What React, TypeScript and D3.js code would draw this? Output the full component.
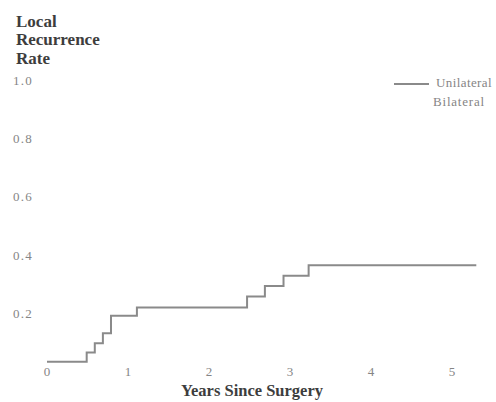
import React from "react";
import * as d3 from "d3";

const years = [0, 0.49, 0.59, 0.69, 0.79, 1.11, 2.47, 2.69, 2.92, 3.23, 5.3];
const rates = [0.04, 0.071, 0.103, 0.137, 0.197, 0.226, 0.263, 0.299, 0.334, 0.37, 0.37];
const yTicks = [1.0, 0.8, 0.6, 0.4, 0.2];
const yTickLabels = ["1.0", "0.8", "0.6", "0.4", "0.2"];
const xTicks = [0, 1, 2, 3, 4, 5];
const legendLabels = ["Unilateral", "Bilateral"];
const yTitleLines = ["Local", "Recurrence", "Rate"];
const xTitle = "Years Since Surgery";

const W = 496;
const H = 402;

export default function App() {
  const x = d3.scaleLinear().domain([0, 5]).range([47, 452]);
  const y = d3.scaleLinear().domain([0, 1]).range([373.3, 81.6]);
  const pts: [number, number][] = years.map((t, i) => [t, rates[i]]);
  const line = d3
    .line<[number, number]>()
    .x((d) => x(d[0]))
    .y((d) => y(d[1]))
    .curve(d3.curveStepAfter);
  const serif = "Liberation Serif, DejaVu Serif, serif";
  return (
    <svg
      width={W}
      height={H}
      style={{ position: "absolute", left: 0, top: 0, background: "#fff", fontFamily: serif }}
    >
      {yTitleLines.map((t, i) => (
        <text
          key={t}
          x={16}
          y={23 + i * 18.5}
          dominantBaseline="middle"
          fontWeight="bold"
          fontSize={17}
          fill="#3d3d3d"
        >
          {t}
        </text>
      ))}
      {yTicks.map((v, i) => (
        <text
          key={v}
          x={13}
          y={y(v)}
          dominantBaseline="middle"
          fontSize={13}
          letterSpacing={1.2}
          fill="#858585"
        >
          {yTickLabels[i]}
        </text>
      ))}
      {xTicks.map((t) => (
        <text
          key={t}
          x={x(t)}
          y={y(0)}
          textAnchor="middle"
          dominantBaseline="middle"
          fontSize={13}
          fill="#858585"
        >
          {t}
        </text>
      ))}
      <text
        x={252}
        y={392}
        textAnchor="middle"
        dominantBaseline="middle"
        fontWeight="bold"
        fontSize={16.5}
        fill="#3d3d3d"
      >
        {xTitle}
      </text>
      <path d={line(pts) || ""} fill="none" stroke="#8a8a8a" strokeWidth={2} />
      <line x1={394} x2={429} y1={84} y2={84} stroke="#8a8a8a" strokeWidth={1.8} />
      <text x={436} y={84} dominantBaseline="middle" fontSize={13} letterSpacing={0.4} fill="#858585">
        {legendLabels[0]}
      </text>
      <text x={433} y={103} dominantBaseline="middle" fontSize={13} letterSpacing={0.8} fill="#858585">
        {legendLabels[1]}
      </text>
    </svg>
  );
}
